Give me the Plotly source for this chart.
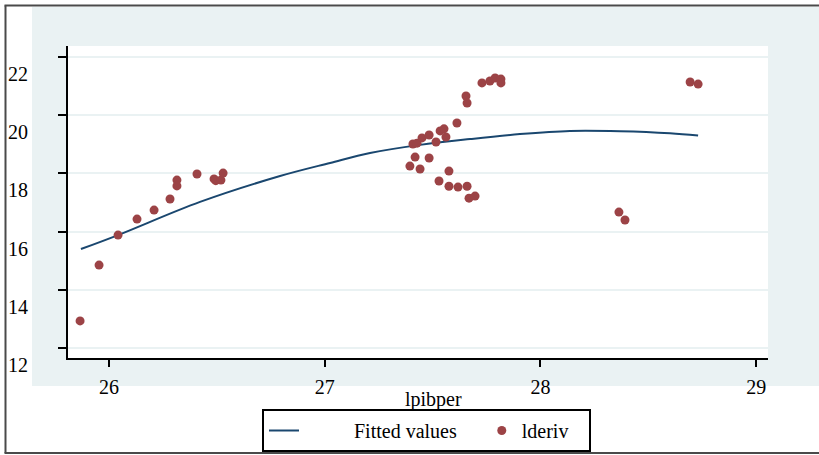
import plotly.graph_objects as go

# Observed data
lpibper = [25.866, 25.954, 26.042, 26.130, 26.209, 26.283, 26.315, 26.315, 26.408,
           26.487, 26.495, 26.519, 26.529,
           27.395, 27.409, 27.419, 27.428, 27.442, 27.451, 27.484, 27.484, 27.516,
           27.530, 27.535, 27.553, 27.562, 27.576, 27.576, 27.613, 27.618, 27.655,
           27.660, 27.660, 27.669, 27.697, 27.729, 27.766, 27.790, 27.817, 27.817,
           28.364, 28.392, 28.694, 28.731]
lderiv = [12.93, 14.85, 15.88, 16.43, 16.74, 17.12, 17.77, 17.57, 17.98,
          17.81, 17.75, 17.77, 18.01,
          18.25, 19.01, 18.56, 19.04, 18.15, 19.22, 19.32, 18.53, 19.08,
          17.74, 19.46, 19.53, 19.25, 18.08, 17.56, 19.73, 17.53, 20.66,
          20.42, 17.56, 17.15, 17.22, 21.11, 21.175, 21.28, 21.24, 21.11,
          16.67, 16.40, 21.14, 21.07]

# Fitted values
fit_x = [25.870, 26.042, 26.422, 26.793, 27.025, 27.210, 27.442, 27.674,
         27.905, 28.137, 28.369, 28.601, 28.731]
fit_y = [15.40, 15.88, 17.02, 17.91, 18.36, 18.70, 18.98, 19.18,
         19.35, 19.46, 19.45, 19.38, 19.30]

y_ticks = [12, 14, 16, 18, 20, 22]
x_ticks = [26, 27, 28, 29]

FONT = "Liberation Serif, Times New Roman, serif"
GRAY = "#eaf2f3"
FS = 20
NB = "\u00a0"

fig = go.Figure()
fig.add_trace(go.Scatter(x=fit_x, y=fit_y, mode="lines", name=NB * 10 + "Fitted values" + NB * 4,
                         line=dict(color="#1a476f", width=2, shape="spline")))
fig.add_trace(go.Scatter(x=lpibper, y=lderiv, mode="markers", name="lderiv" + NB * 3,
                         marker=dict(color="#9c4346", size=9)))

W, H = 819, 455
L, R, T, B = 68, 768, 46, 358
pw, ph = R - L, B - T


def px(x):
    return (x - L) / pw


def py(y):
    return (B - y) / ph


BORDER = dict(color="#4a4a4a", width=2)
shapes = [
    dict(type="rect", xref="paper", yref="paper", x0=px(32), x1=px(819), y0=py(386), y1=py(7),
         fillcolor=GRAY, line=dict(width=0), layer="below"),
    dict(type="rect", xref="paper", yref="paper", x0=0, x1=1, y0=0, y1=1,
         fillcolor="white", line=dict(width=0), layer="below"),
    dict(type="line", xref="paper", yref="paper", x0=px(5.5), x1=px(5.5), y0=py(453), y1=py(5.5),
         line=BORDER, layer="above"),
    dict(type="line", xref="paper", yref="paper", x0=px(4.5), x1=px(819), y0=py(5.5), y1=py(5.5),
         line=BORDER, layer="above"),
    dict(type="line", xref="paper", yref="paper", x0=px(4.5), x1=px(819), y0=py(453), y1=py(453),
         line=BORDER, layer="above"),
]

fig.update_layout(
    width=W, height=H,
    margin=dict(l=L, r=W - R, t=T, b=H - B, autoexpand=False),
    paper_bgcolor="white", plot_bgcolor="white",
    font=dict(family=FONT, size=FS, color="black"),
    shapes=shapes,
    showlegend=True,
    legend=dict(orientation="h", x=px(262), y=py(409), xanchor="left", yanchor="top",
                bordercolor="black", borderwidth=2, bgcolor="white",
                font=dict(family=FONT, size=FS)),
    annotations=[dict(text="lpibper", xref="paper", yref="paper", x=px(433), y=py(399),
                      showarrow=False, xanchor="center", yanchor="middle",
                      font=dict(family=FONT, size=FS))],
)

fig.update_xaxes(range=[25.81, 29.055], tickvals=x_ticks, ticktext=[str(v) for v in x_ticks],
                 showgrid=False, zeroline=False, showline=True, linecolor="black", linewidth=2,
                 ticks="outside", ticklen=7, tickwidth=2, tickcolor="black",
                 ticklabelstandoff=3, automargin=False)
fig.update_yaxes(range=[11.656, 22.378], tickvals=y_ticks, ticktext=[str(v) for v in y_ticks],
                 showgrid=True, gridcolor=GRAY, gridwidth=2, zeroline=False,
                 showline=True, linecolor="black", linewidth=2,
                 ticks="outside", ticklen=8, tickwidth=2, tickcolor="black",
                 ticklabelstandoff=26, ticklabelshift=17, automargin=False)

fig.write_html("out.html", config={"displayModeBar": False},
               post_script="document.body.style.margin='0px';document.body.style.overflow='hidden';"
                           "document.documentElement.style.overflow='hidden';")
